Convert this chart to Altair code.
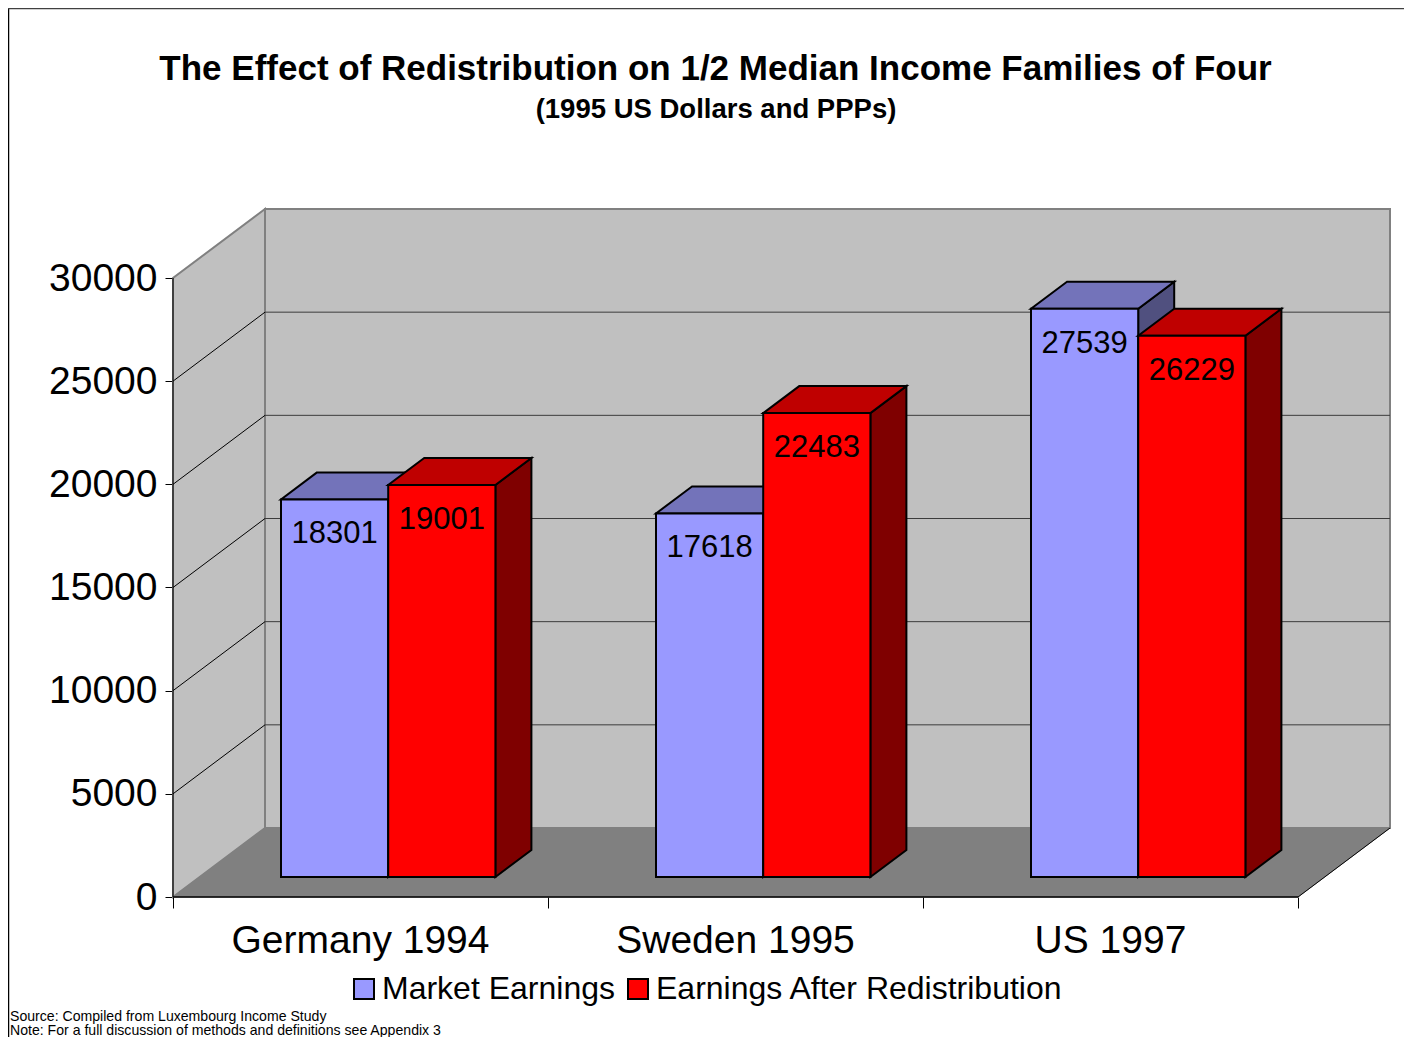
import altair as alt
import pandas as pd

TITLE = "The Effect of Redistribution on 1/2 Median Income Families of Four"
SUBTITLE = "(1995 US Dollars and PPPs)"
categories = ["Germany 1994", "Sweden 1995", "US 1997"]
series_names = ["Market Earnings", "Earnings After Redistribution"]
market = [18301, 17618, 27539]
after = [19001, 22483, 26229]
y_ticks = [0, 5000, 10000, 15000, 20000, 25000, 30000]
notes = ["Source: Compiled from Luxembourg Income Study",
         "Note: For a full discussion of methods and definitions see Appendix 3"]

FONT = "Liberation Sans"
W, H = 1217, 688
PX_X, PX_Y = 375.0, 619.0 / 30000
X_SCALE = alt.Scale(domain=[0, W / PX_X], range=[0, W], nice=False, zero=False)
Y_SCALE = alt.Scale(domain=[0, H / PX_Y], range=[H, 0], nice=False, zero=False)
# depth of the box and of the bars, in axis units
DX, DY = 92 / PX_X, 69 / PX_Y
BDX, BDY = 36 / PX_X, 27 / PX_Y
BASE = 20 / PX_Y
BAR_L = 108 / PX_X
BAR_W = 107.2 / PX_X
N = len(categories)

AX_X = alt.Axis(values=list(range(N + 1)), labels=False, title=None, grid=False,
                domain=False, tickSize=11, tickColor="#000000", tickWidth=1)
AX_Y = alt.Axis(values=y_ticks, title=None, grid=False, domain=False, tickSize=8, format="d",
                tickColor="#000000", tickWidth=1, labelFont=FONT, labelFontSize=39,
                labelColor="#000000", labelPadding=8, labelFlush=False, labelOverlap=False)

X = lambda f="x": alt.X(f"{f}:Q", scale=X_SCALE, axis=AX_X)
Y = lambda f="y": alt.Y(f"{f}:Q", scale=Y_SCALE, axis=AX_Y)


def side_area(data, fill, stroke, sw):
    return alt.Chart(pd.DataFrame(data)).mark_area(fill=fill, stroke=stroke, strokeWidth=sw, opacity=1).encode(
        x=X(), y=Y("lo"), y2="hi:Q", detail="k:N")


def flat_area(data, fill, stroke, sw):
    return alt.Chart(pd.DataFrame(data)).mark_area(orient="horizontal", fill=fill, stroke=stroke, strokeWidth=sw, opacity=1).encode(
        y=Y(), x=X("lo"), x2="hi:Q", detail="k:N")


top = y_ticks[-1]
left_wall = side_area([{"k": 0, "x": 0, "lo": 0, "hi": top}, {"k": 0, "x": DX, "lo": DY, "hi": top + DY}], "#C0C0C0", "#808080", 2)
back_wall = side_area([{"k": 0, "x": DX, "lo": DY, "hi": top + DY}, {"k": 0, "x": DX + N, "lo": DY, "hi": top + DY}], "#C0C0C0", "#808080", 2)
floor = flat_area([{"k": 0, "y": 0, "lo": 0, "hi": N}, {"k": 0, "y": DY, "lo": DX, "hi": DX + N}], "#808080", "#808080", 1)

inner = [t for t in y_ticks[1:-1]]
grid_back = alt.Chart(pd.DataFrame({"t": [t + DY for t in inner], "a": [DX] * len(inner), "b": [DX + N] * len(inner)})).mark_rule(
    color="#3C3C3C", strokeWidth=1).encode(x=X("a"), x2="b:Q", y=Y("t"))
grid_side = alt.Chart(pd.DataFrame(
    [{"k": t, "x": 0, "y": t} for t in inner] + [{"k": t, "x": DX, "y": t + DY} for t in inner])).mark_line(
    color="#000000", strokeWidth=1).encode(x=X(), y=Y(), detail="k:N")
edge_right = alt.Chart(pd.DataFrame([{"x": N, "y": 0}, {"x": N + DX, "y": DY}])).mark_line(
    color="#000000", strokeWidth=1).encode(x=X(), y=Y())
axis_x_line = alt.Chart(pd.DataFrame({"a": [0], "b": [N], "y": [0]})).mark_rule(color="#000000", strokeWidth=1.5).encode(
    x=X("a"), x2="b:Q", y=Y())
axis_y_line = alt.Chart(pd.DataFrame({"x": [0], "a": [0], "b": [top]})).mark_rule(color="#000000", strokeWidth=1).encode(
    x=X(), y=Y("a"), y2="b:Q")

cat_text = alt.Chart(pd.DataFrame({"c": categories, "x": [i + 0.5 for i in range(N)], "y": [0] * N})).mark_text(
    font=FONT, fontSize=39, dy=44, baseline="middle", align="center", color="#000000").encode(x=X(), y=Y(), text="c:N")

layers = [left_wall, back_wall, floor, grid_back, grid_side, edge_right, axis_x_line, axis_y_line]
styles = [("#9999FF", "#7373BA", "#50507F"), ("#FF0000", "#BF0000", "#7F0000")]
color = alt.Color("s:N", scale=alt.Scale(domain=series_names, range=[s[0] for s in styles]),
                  legend=alt.Legend(title=None, orient="none", direction="horizontal", columns=2, legendX=175, legendY=764,
                                    padding=0, symbolType="square", symbolSize=400, symbolStrokeColor="#000000",
                                    symbolStrokeWidth=2, symbolOpacity=1, labelFont=FONT, labelFontSize=32,
                                    labelColor="#000000", labelOffset=2, columnPadding=7, labelLimit=500))

for si, (name, vals) in enumerate(zip(series_names, [market, after])):
    front_fill, top_fill, side_fill = styles[si]
    fronts, sides, tops = [], [], []
    for c, v in enumerate(vals):
        x0 = c + BAR_L + si * BAR_W
        x1 = x0 + BAR_W
        t = v + BASE
        fronts.append({"s": name, "a": x0, "b": x1, "lo": BASE, "hi": t, "mid": (x0 + x1) / 2, "v": v})
        sides += [{"k": c, "x": x1, "lo": BASE, "hi": t}, {"k": c, "x": x1 + BDX, "lo": BASE + BDY, "hi": t + BDY}]
        tops += [{"k": c, "y": t, "lo": x0, "hi": x1}, {"k": c, "y": t + BDY, "lo": x0 + BDX, "hi": x1 + BDX}]
    layers.append(side_area(sides, side_fill, "#000000", 2))
    layers.append(flat_area(tops, top_fill, "#000000", 2))
    fdf = pd.DataFrame(fronts)
    layers.append(alt.Chart(fdf).mark_rect(stroke="#000000", strokeWidth=2, opacity=1).encode(
        x=X("a"), x2="b:Q", y=Y("lo"), y2="hi:Q", color=color))
    layers.append(alt.Chart(fdf).mark_text(font=FONT, fontSize=31, dy=35, baseline="middle", align="center", color="#000000").encode(
        x=X("mid"), y=Y("hi"), text="v:N"))

layers.append(cat_text)


def label(text, px, py, size, bold=False, align="left"):
    return alt.Chart(pd.DataFrame({"t": [text]})).mark_text(
        font=FONT, fontSize=size, fontWeight="bold" if bold else "normal", align=align, baseline="middle", color="#000000").encode(
        x=alt.value(px), y=alt.value(py), text="t:N")


layers.append(label(notes[0], -163, 808, 14.1))
layers.append(label(notes[1], -163, 822, 14.1))
layers.append(label(TITLE, 542.5, -140.5, 35, True, "center"))
layers.append(label(SUBTITLE, 543, -99.5, 27.5, True, "center"))
layers.append(alt.Chart(pd.DataFrame({"a": [0]})).mark_rule(color="#000000", strokeWidth=1.5).encode(
    x=alt.value(-164.5), y=alt.value(-201), y2=alt.value(828)))
layers.append(alt.Chart(pd.DataFrame({"a": [0]})).mark_rule(color="#404040", strokeWidth=1.5).encode(
    x=alt.value(-165), x2=alt.value(1231), y=alt.value(-200.5)))

chart = alt.layer(*layers).properties(
    width=W, height=H,
    padding={"left": 165, "top": 201, "right": 14, "bottom": 140},
    autosize=alt.AutoSizeParams(type="none"),
    background="white",
).configure_view(stroke=None)

chart.save("out.html", embed_options={"renderer": "svg", "actions": False})
